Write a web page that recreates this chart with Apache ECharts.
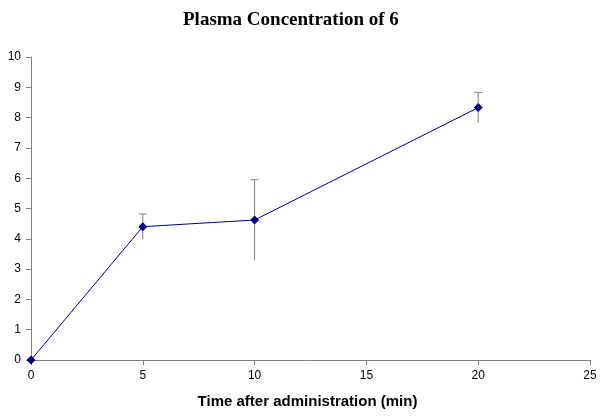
<!DOCTYPE html>
<html><head><meta charset="utf-8">
<script src="https://cdn.jsdelivr.net/npm/echarts@6/dist/echarts.min.js"></script>
<style>html,body{margin:0;padding:0;background:#fff}#c{width:600px;height:417px}</style>
</head><body><div id="c"></div>
<script>
var times = [0, 5, 10, 20];
var conc = [0, 4.40, 4.62, 8.33];
var errs = [0, 0.42, 1.33, 0.50];
var xTicks = [0, 5, 10, 15, 20, 25];
var yTicks = [0, 1, 2, 3, 4, 5, 6, 7, 8, 9, 10];

var lineData = times.map(function (t, i) { return [t, conc[i]]; });
var errData = times.map(function (t, i) { return [t, conc[i] - errs[i], conc[i] + errs[i]]; }).filter(function (d, i) { return errs[i] > 0; });

var chart = echarts.init(document.getElementById('c'));
chart.setOption({
  animation: false,
  backgroundColor: '#fff',
  title: {
    text: 'Plasma Concentration of 6',
    left: 178, top: 6,
    textStyle: { fontFamily: 'Liberation Serif', fontWeight: 'bold', fontSize: 19, color: '#000' }
  },
  grid: { left: 31, right: 10, top: 57, bottom: 57 },
  xAxis: {
    type: 'value', min: 0, max: 25, interval: 5,
    name: 'Time after administration (min)', nameLocation: 'middle', nameGap: 34,
    nameTextStyle: { fontFamily: 'Liberation Sans', fontWeight: 'bold', fontSize: 15, color: '#000', padding: [0, 6, 0, 0] },
    axisLine: { lineStyle: { color: '#808080' } },
    axisTick: { show: true, inside: false, length: 5, lineStyle: { color: '#808080' } },
    axisLabel: { fontFamily: 'Liberation Sans', fontSize: 12, color: '#000', margin: 10 },
    splitLine: { show: false }
  },
  yAxis: {
    type: 'value', min: 0, max: 10, interval: 1,
    axisLine: { show: true, lineStyle: { color: '#808080' } },
    axisTick: { show: true, inside: false, length: 5, lineStyle: { color: '#808080' } },
    axisLabel: { fontFamily: 'Liberation Sans', fontSize: 12, color: '#000', margin: 10 },
    splitLine: { show: false }
  },
  series: [
    {
      type: 'custom',
      data: errData,
      z: 1,
      renderItem: function (params, api) {
        var x = api.value(0);
        var lo = api.coord([x, api.value(1)]);
        var hi = api.coord([x, api.value(2)]);
        var style = { stroke: '#808080', lineWidth: 1 };
        return {
          type: 'group',
          children: [
            { type: 'line', shape: { x1: lo[0], y1: lo[1], x2: hi[0], y2: hi[1] }, style: style },
            { type: 'line', shape: { x1: hi[0] - 4, y1: hi[1], x2: hi[0] + 4, y2: hi[1] }, style: style }
          ]
        };
      }
    },
    {
      type: 'line',
      data: lineData,
      z: 3,
      symbol: 'diamond', symbolSize: 9,
      lineStyle: { color: '#000080', width: 1 },
      itemStyle: { color: '#000080' }
    }
  ]
});
</script></body></html>
